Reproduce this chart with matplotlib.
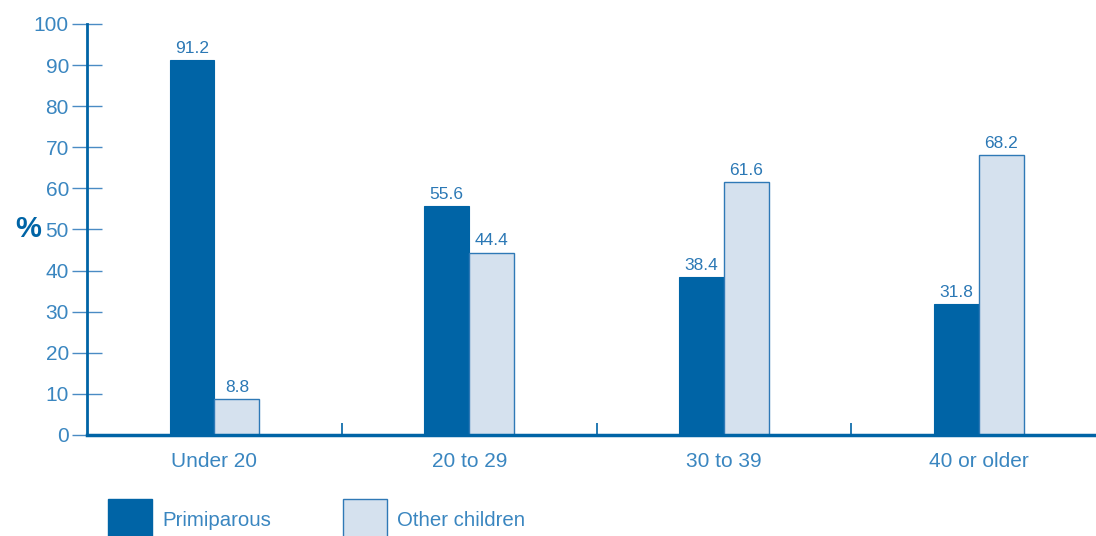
import numpy as np
import matplotlib
matplotlib.use('Agg')
import matplotlib.pyplot as plt
from matplotlib.patches import Rectangle

plt.rcParams['font.family'] = ['Liberation Sans', 'DejaVu Sans']

groups = ['Under 20', '20 to 29', '30 to 39', '40 or older']
primiparous = [91.2, 55.6, 38.4, 31.8]
other = [8.8, 44.4, 61.6, 68.2]
series_names = ['Primiparous', 'Other children']

dark = '#0064A6'
light = '#D5E1EE'
edge = '#2F79B6'
txt = '#2B78B5'
tick_txt = '#3A86C0'

fig = plt.figure(figsize=(10.96, 5.36), dpi=100)
ax = fig.add_axes([87 / 1096, 1 - 435 / 536, 1 - 87 / 1096, 411 / 536])

x = np.arange(len(groups))
w = 0.176
b1 = ax.bar(x - w / 2, primiparous, w, color=dark, edgecolor=dark, linewidth=0.8)
b2 = ax.bar(x + w / 2, other, w, color=light, edgecolor=edge, linewidth=1.0)

for bars, vals in [(b1, primiparous), (b2, other)]:
    for r, v in zip(bars, vals):
        ax.annotate(f'{v:.1f}', (r.get_x() + r.get_width() / 2, v),
                    xytext=(0, 3), textcoords='offset points',
                    ha='center', va='bottom', fontsize=12.5, color=txt)

ax.set_xlim(-0.5, 3.46)
ax.set_ylim(0, 100)
ax.set_yticks(np.arange(0, 101, 10))
ax.set_xticks(x)
ax.set_xticklabels(groups)
ax.set_xticks(x[:-1] + 0.5, minor=True)
ax.tick_params(axis='x', which='major', length=0, pad=12, labelsize=15, labelcolor=tick_txt)
ax.tick_params(axis='x', which='minor', direction='in', length=9, width=1.2, color=dark)
ax.tick_params(axis='y', direction='inout', length=22, width=1.0, color='#4A8BC4',
               labelsize=15, labelcolor=tick_txt, pad=2)

for s in ['top', 'right']:
    ax.spines[s].set_visible(False)
for s in ['left', 'bottom']:
    ax.spines[s].set_color(dark)
ax.spines['left'].set_linewidth(2.0)
ax.spines['bottom'].set_linewidth(2.5)
ax.spines['left'].set_bounds(0, 100)

fig.text(28 / 1096, 1 - 229 / 536, '%', fontsize=21, fontweight='bold', color=dark,
         ha='center', va='center')

# legend keys drawn in figure space, cut off at the bottom edge like the original
key_x = [108, 343]
for kx, name, fc, ec in zip(key_x, series_names, [dark, light], [dark, edge]):
    fig.add_artist(Rectangle((kx / 1096, -0.02), 44 / 1096, (37 / 536) + 0.02,
                             transform=fig.transFigure, facecolor=fc, edgecolor=ec,
                             linewidth=1.0, clip_on=False))
    fig.text((kx + 54) / 1096, 1 - 521 / 536, name, fontsize=14.7, color=tick_txt,
             ha='left', va='center')

fig.savefig('out.png', dpi=100)
